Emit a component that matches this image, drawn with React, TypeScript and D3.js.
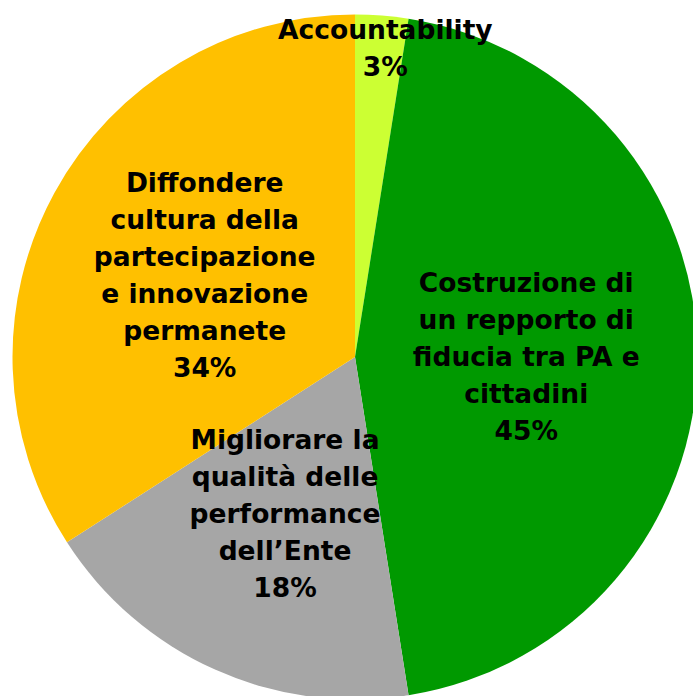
import React from "react";
import * as d3 from "d3";

const categories: string[][] = [
  ["Accountability"],
  ["Costruzione di", "un repporto di", "fiducia tra PA e", "cittadini"],
  ["Migliorare la", "qualità delle", "performance", "dell’Ente"],
  ["Diffondere", "cultura della", "partecipazione", "e innovazione", "permanete"],
];
const values: number[] = [2.5, 45, 18.4, 34.1];
const colors: string[] = ["#CCFF33", "#009900", "#A6A6A6", "#FFC000"];
const labelRadiusFactor: number[] = [0.905, 0.5, 0.5, 0.5];

const W = 693;
const H = 696;
const cx = 355;
const cy = 357;
const R = 342.5;
const FONT = 26.5;
const LH = 37;

export default function App() {
  const total = d3.sum(values);
  const pie = d3
    .pie<number>()
    .sort(null)
    .value((d) => d)
    .startAngle(0)
    .endAngle(2 * Math.PI);
  const arcs = pie(values);
  const arcGen = d3.arc<d3.PieArcDatum<number>>().innerRadius(0).outerRadius(R);

  return (
    <div style={{ position: "fixed", left: 0, top: 0, width: W, height: H, background: "#fff" }}>
      <svg width={W} height={H} style={{ display: "block" }}>
        <g transform={`translate(${cx},${cy})`}>
          {arcs.map((a, i) => (
            <path key={i} d={arcGen(a) || ""} fill={colors[i]} />
          ))}
          {arcs.map((a, i) => {
            const lr = R * labelRadiusFactor[i];
            const [lx0, ly] = d3
              .arc<d3.PieArcDatum<number>>()
              .innerRadius(lr)
              .outerRadius(lr)
              .centroid(a);
            const lx = i === 0 ? lx0 + 6 : lx0;
            const lines = [...categories[i], `${Math.round((values[i] / total) * 100)}%`];
            const first = ly - ((lines.length - 1) * LH) / 2;
            return (
              <text
                key={i}
                x={lx}
                textAnchor="middle"
                fontFamily="'DejaVu Sans', sans-serif"
                fontWeight="bold"
                fontSize={FONT}
                fill="#000"
              >
                {lines.map((t, j) => (
                  <tspan key={j} x={lx} y={first + j * LH} dy="0.35em">
                    {t}
                  </tspan>
                ))}
              </text>
            );
          })}
        </g>
      </svg>
    </div>
  );
}
